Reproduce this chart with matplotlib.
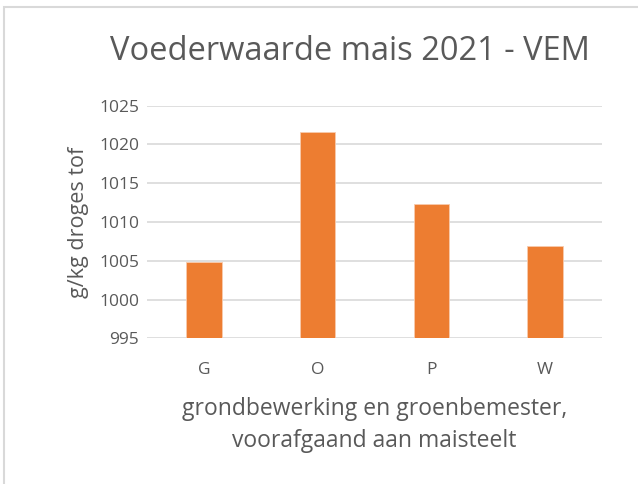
import matplotlib
matplotlib.use("Agg")
import matplotlib.pyplot as plt
from matplotlib.patches import Rectangle

categories = ["G", "O", "P", "W"]
values = [1004.8, 1021.6, 1012.3, 1006.9]
yticks = [995, 1000, 1005, 1010, 1015, 1020, 1025]

title = "Voederwaarde mais 2021 - VEM"
ylabel = "g/kg droges tof"
xlabel = "grondbewerking en groenbemester,\nvoorafgaand aan maisteelt"

plt.rcParams['font.family'] = ['Open Sans', 'DejaVu Sans']
txt = "#595959"

fig = plt.figure(figsize=(6.38, 4.84), dpi=100)
fig.patches.append(Rectangle((4/638, -0.1), 1.2, 1 - 7/484 + 0.1, transform=fig.transFigure,
                             fill=False, edgecolor="#D9D9D9", linewidth=1.5))
ax = fig.add_axes([147.3/638, 1 - 338.3/484, (601.7-147.3)/638, (338.3-105.7)/484])

x = range(len(categories))
ax.bar(x, values, width=0.31, color="#ED7D31", edgecolor="#F8CBAD", linewidth=0.6, zorder=3)
ax.set_ylim(995, 1025)
ax.set_xlim(-0.5, 3.5)
ax.set_yticks(yticks)
ax.set_xticks(list(x))
ax.set_xticklabels(categories)
ax.yaxis.grid(True, color="#D9D9D9", linewidth=1.2, zorder=0)
ax.set_axisbelow(True)
for s in ax.spines.values():
    s.set_visible(False)
ax.tick_params(axis="both", length=0, colors=txt, labelsize=12.5)
ax.tick_params(axis="x", pad=17)
ax.tick_params(axis="y", pad=6)

ax.set_ylabel(ylabel, fontsize=15.5, color=txt, labelpad=7)
ax.set_xlabel(xlabel, fontsize=16.5, color=txt, labelpad=14, linespacing=1.45)
fig.text(350/638, 1 - 51/484, title, fontsize=23.5, color=txt, ha="center", va="center")

fig.savefig("out.png", dpi=100)
